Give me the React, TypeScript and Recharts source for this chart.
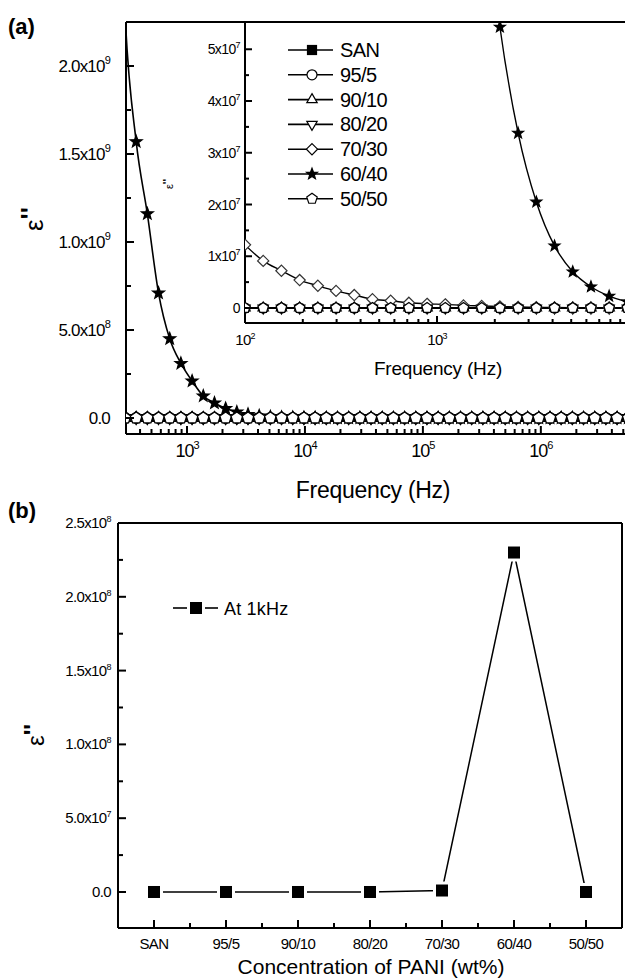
import React from 'react'
import { LineChart, Line, XAxis, YAxis, ReferenceLine, Legend } from 'recharts'

const FONT = '"Liberation Sans", Arial, Helvetica, sans-serif'
const TICK_COLOR = '#000'

// frequency sweep (Hz)
const FREQ = [
  100, 124.4, 154.8, 192.6, 239.6, 298, 370.8, 461.2, 573.8, 713.8,
  888, 1104.6, 1374.2, 1709.5, 2126.6, 2645.5, 3291, 4094, 5093, 6336,
  7882, 9805, 12198, 15174, 18876, 23482, 29212, 36340, 45207, 56238,
  69960, 87030, 108265, 134682, 167545, 208426, 259282, 322547, 401249, 499154,
  620948, 772459, 960939, 1195408, 1487088, 1849938, 2301323, 2862846, 3561381, 4430358,
  5511365,
]

// dielectric loss e'' for each composition
const SAN = [
  0, 0, 0, 0, 0, 0, 0, 0, 0, 0, 0, 0, 0, 0, 0, 0, 0, 0, 0, 0, 0, 0, 0, 0, 0,
  0, 0, 0, 0, 0, 0, 0, 0, 0, 0, 0, 0, 0, 0, 0, 0, 0, 0, 0, 0, 0, 0, 0, 0, 0, 0,
]
const P95_5 = [
  0, 0, 0, 0, 0, 0, 0, 0, 0, 0, 0, 0, 0, 0, 0, 0, 0, 0, 0, 0, 0, 0, 0, 0, 0,
  0, 0, 0, 0, 0, 0, 0, 0, 0, 0, 0, 0, 0, 0, 0, 0, 0, 0, 0, 0, 0, 0, 0, 0, 0, 0,
]
const P90_10 = [
  0, 0, 0, 0, 0, 0, 0, 0, 0, 0, 0, 0, 0, 0, 0, 0, 0, 0, 0, 0, 0, 0, 0, 0, 0,
  0, 0, 0, 0, 0, 0, 0, 0, 0, 0, 0, 0, 0, 0, 0, 0, 0, 0, 0, 0, 0, 0, 0, 0, 0, 0,
]
const P80_20 = [
  0, 0, 0, 0, 0, 0, 0, 0, 0, 0, 0, 0, 0, 0, 0, 0, 0, 0, 0, 0, 0, 0, 0, 0, 0,
  0, 0, 0, 0, 0, 0, 0, 0, 0, 0, 0, 0, 0, 0, 0, 0, 0, 0, 0, 0, 0, 0, 0, 0, 0, 0,
]
const P70_30 = [
  1.22e7, 9.1e6, 7.2e6, 5.4e6, 4.3e6, 3.3e6, 2.5e6, 1.7e6, 1.4e6, 1.0e6,
  8e5, 7e5, 5e5, 4e5, 3e5, 2e5, 1.5e5, 1e5, 7e4, 5e4,
  3e4, 2e4, 1e4, 0, 0, 0, 0, 0, 0, 0,
  0, 0, 0, 0, 0, 0, 0, 0, 0, 0, 0, 0, 0, 0, 0, 0, 0, 0, 0, 0, 0,
]
const P60_40 = [
  null, null, null, null, 4.2e9, 2.3e9, 1.57e9, 1.16e9, 7.1e8, 4.5e8,
  3.1e8, 2.1e8, 1.25e8, 8.5e7, 5.43e7, 3.38e7, 2.05e7, 1.2e7, 7.0e6, 4.1e6,
  2.3e6, 1.2e6, 6e5, 3e5, 1.5e5, 8e4, 4e4, 2e4, 1e4, 0,
  0, 0, 0, 0, 0, 0, 0, 0, 0, 0, 0, 0, 0, 0, 0, 0, 0, 0, 0, 0, 0,
]
const P50_50 = [
  0, 0, 0, 0, 0, 0, 0, 0, 0, 0, 0, 0, 0, 0, 0, 0, 0, 0, 0, 0, 0, 0, 0, 0, 0,
  0, 0, 0, 0, 0, 0, 0, 0, 0, 0, 0, 0, 0, 0, 0, 0, 0, 0, 0, 0, 0, 0, 0, 0, 0, 0,
]

// panel (b): e'' at 1 kHz
const CATEGORIES = ['SAN', '95/5', '90/10', '80/20', '70/30', '60/40', '50/50']
const AT_1KHZ = [0, 0, 0, 0, 1.0e6, 2.3e8, 0]

// ticks
const MAIN_X_MAJOR = [1e3, 1e4, 1e5, 1e6]
const MAIN_X_LABELS = ['10^3', '10^4', '10^5', '10^6']
const MAIN_X_MINOR = [
  400, 500, 600, 700, 800, 900,
  2e3, 3e3, 4e3, 5e3, 6e3, 7e3, 8e3, 9e3,
  2e4, 3e4, 4e4, 5e4, 6e4, 7e4, 8e4, 9e4,
  2e5, 3e5, 4e5, 5e5, 6e5, 7e5, 8e5, 9e5,
  2e6, 3e6, 4e6, 5e6,
]
const MAIN_Y_MAJOR = [0, 5e8, 1e9, 1.5e9, 2e9]
const MAIN_Y_LABELS = ['0.0', '5.0x10^8', '1.0x10^9', '1.5x10^9', '2.0x10^9']
const MAIN_Y_MINOR = [2.5e8, 7.5e8, 1.25e9, 1.75e9]

const INSET_X_MAJOR = [100, 1000, 10000]
const INSET_X_LABELS = ['10^2', '10^3', '']
const INSET_X_MINOR = [200, 300, 400, 500, 600, 700, 800, 900, 2000, 3000, 4000, 5000, 6000, 7000, 8000, 9000]
const INSET_Y_MAJOR = [0, 1e7, 2e7, 3e7, 4e7, 5e7]
const INSET_Y_LABELS = ['0', '1x10^7', '2x10^7', '3x10^7', '4x10^7', '5x10^7']
const INSET_Y_MINOR = [5e6, 1.5e7, 2.5e7, 3.5e7, 4.5e7]

const B_Y_MAJOR = [0, 5e7, 1e8, 1.5e8, 2e8, 2.5e8]
const B_Y_LABELS = ['0.0', '5.0x10^7', '1.0x10^8', '1.5x10^8', '2.0x10^8', '2.5x10^8']
const B_Y_MINOR = [2.5e7, 7.5e7, 1.25e8, 1.75e8, 2.25e8]
const B_X_MAJOR = [0, 1, 2, 3, 4, 5, 6]
const B_X_MINOR = [0.5, 1.5, 2.5, 3.5, 4.5, 5.5]

const MAIN_X_DOMAIN = [304, 5.7e6]
const MAIN_Y_DOMAIN = [-9.1e7, 2.25e9]
const INSET_X_DOMAIN = [100, 10000]
const INSET_Y_DOMAIN = [-2.9e6, 5.527e7]
const B_X_DOMAIN = [-0.5, 6.5]
const B_Y_DOMAIN = [-2.44e7, 2.5e8]

const SERIES = [
  { key: 'san', name: 'SAN', shape: 'square', fill: '#000', values: SAN },
  { key: 'p95', name: '95/5', shape: 'circle', fill: '#fff', values: P95_5 },
  { key: 'p90', name: '90/10', shape: 'up', fill: '#fff', values: P90_10 },
  { key: 'p80', name: '80/20', shape: 'down', fill: '#fff', values: P80_20 },
  { key: 'p70', name: '70/30', shape: 'diamond', fill: '#fff', values: P70_30 },
  { key: 'p60', name: '60/40', shape: 'star', fill: '#000', values: P60_40 },
  { key: 'p50', name: '50/50', shape: 'pentagon', fill: '#fff', values: P50_50 },
]

const rows = FREQ.map((f, i) => {
  const r: Record<string, number | null> = { f }
  SERIES.forEach((s) => {
    r[s.key] = s.values[i]
  })
  return r
})

const bRows = CATEGORIES.map((c, i) => ({ i, v: AT_1KHZ[i] }))

function polyPoints(n: number, r: number, start: number, cx: number, cy: number) {
  const pts: string[] = []
  for (let k = 0; k < n; k++) {
    const a = ((start + (360 / n) * k) * Math.PI) / 180
    pts.push(`${cx + r * Math.cos(a)},${cy + r * Math.sin(a)}`)
  }
  return pts.join(' ')
}

function starPoints(ro: number, ri: number, cx: number, cy: number) {
  const pts: string[] = []
  for (let k = 0; k < 10; k++) {
    const r = k % 2 === 0 ? ro : ri
    const a = ((-90 + 36 * k) * Math.PI) / 180
    pts.push(`${cx + r * Math.cos(a)},${cy + r * Math.sin(a)}`)
  }
  return pts.join(' ')
}

function Marker({ shape, cx, cy, size, fill, stroke = '#000', sw = 1.2 }: any) {
  const r = size / 2
  if (shape === 'square')
    return <rect x={cx - r} y={cy - r} width={size} height={size} fill={fill} stroke={stroke} strokeWidth={sw} />
  if (shape === 'circle') return <circle cx={cx} cy={cy} r={r} fill={fill} stroke={stroke} strokeWidth={sw} />
  let pts = ''
  if (shape === 'up') pts = polyPoints(3, r * 1.2, -90, cx, cy)
  if (shape === 'down') pts = polyPoints(3, r * 1.2, 90, cx, cy)
  if (shape === 'diamond') pts = polyPoints(4, r * 1.12, -90, cx, cy)
  if (shape === 'pentagon') pts = polyPoints(5, r * 1.1, -90, cx, cy)
  if (shape === 'star') pts = starPoints(r * 1.15, r * 0.48, cx, cy)
  return <polygon points={pts} fill={fill} stroke={stroke} strokeWidth={sw} strokeLinejoin="miter" />
}

const dotFor = (shape: string, size: number, fill: string, stroke = '#000') => (p: any) => {
  if (p.cx == null || p.cy == null || p.value == null || isNaN(p.cy)) return <g key={`n${p.index}`} />
  return <Marker key={`m${p.index}`} shape={shape} cx={p.cx} cy={p.cy} size={size} fill={fill} stroke={stroke} />
}

// inward ticks, Origin style
function makeTick(cfg: any) {
  return (props: any) => {
    const { x, y, payload } = props
    const v = payload.value
    const idx = cfg.majors.findIndex((m: number) => Math.abs(m - v) <= Math.abs(m) * 1e-6 + 1e-9)
    const major = idx >= 0
    const L = major ? cfg.len : cfg.minorLen
    const line =
      cfg.side === 'left' ? (
        <line x1={x} x2={x + L} y1={y} y2={y} stroke={TICK_COLOR} strokeWidth={2} />
      ) : (
        <line x1={x} x2={x} y1={y} y2={y - L} stroke={TICK_COLOR} strokeWidth={2} />
      )
    let label = null
    if (major && cfg.labels[idx]) {
      const [b, s] = cfg.labels[idx].split('^')
      label = (
        <text
          x={cfg.side === 'left' ? x - cfg.gap : x}
          y={y + cfg.base}
          textAnchor={cfg.side === 'left' ? 'end' : 'middle'}
          fontSize={cfg.fs}
          fontFamily={FONT}
          letterSpacing={cfg.ls}
          fill="#000"
        >
          <tspan>{b}</tspan>
          {s && (
            <tspan dy={-cfg.supDy} fontSize={cfg.sup}>
              {s}
            </tspan>
          )}
        </text>
      )
    }
    return (
      <g>
        {line}
        {label}
      </g>
    )
  }
}

const AXIS_LINE = { stroke: '#000', strokeWidth: 2 }

function InsetLegend() {
  return (
    <svg width={170} height={180}>
      {SERIES.map((s, i) => {
        const cy = 12 + i * 24.8
        return (
          <g key={s.key}>
            <line x1={8} x2={53} y1={cy} y2={cy} stroke="#000" strokeWidth={1.6} />
            <Marker shape={s.shape} cx={32} cy={cy} size={s.shape === 'square' ? 9 : 10} fill={s.fill} />
            <text x={60} y={cy + 7} fontSize={20} fontFamily={FONT} letterSpacing={-0.6} fill="#000">
              {s.name}
            </text>
          </g>
        )
      })}
    </svg>
  )
}

function BLegend() {
  return (
    <svg width={150} height={30}>
      <line x1={13} x2={27} y1={13} y2={13} stroke="#000" strokeWidth={1.6} />
      <line x1={45} x2={58} y1={13} y2={13} stroke="#000" strokeWidth={1.6} />
      <rect x={30} y={7} width={12} height={12} fill="#000" />
      <text x={64} y={19.5} fontSize={18} fontFamily={FONT} letterSpacing={0.2} fill="#000">
        At 1kHz
      </text>
    </svg>
  )
}

function MainChart() {
  return (
    <LineChart width={640} height={500} data={rows} margin={{ top: 22, right: 10, bottom: 0, left: 0 }}>
      <XAxis
        dataKey="f"
        type="number"
        scale="log"
        domain={MAIN_X_DOMAIN}
        allowDataOverflow
        ticks={[...MAIN_X_MAJOR, ...MAIN_X_MINOR]}
        interval={0}
        height={66}
        tickSize={0}
        tickMargin={0}
        tickLine={false}
        axisLine={AXIS_LINE}
        tick={makeTick({ side: 'bottom', majors: MAIN_X_MAJOR, labels: MAIN_X_LABELS, len: 8, minorLen: 5, fs: 18, sup: 11, supDy: 8, base: 23, ls: -1 })}
      />
      <YAxis
        type="number"
        domain={MAIN_Y_DOMAIN}
        allowDataOverflow
        ticks={[...MAIN_Y_MAJOR, ...MAIN_Y_MINOR]}
        interval={0}
        width={126}
        tickSize={0}
        tickMargin={0}
        tickLine={false}
        axisLine={AXIS_LINE}
        tick={makeTick({ side: 'left', majors: MAIN_Y_MAJOR, labels: MAIN_Y_LABELS, len: 8, minorLen: 5, fs: 17, sup: 11, supDy: 8, gap: 16, base: 6, ls: -0.8 })}
      />
      <ReferenceLine y={MAIN_Y_DOMAIN[1]} stroke="#000" strokeWidth={2} />
      {SERIES.map((s) => (
        <Line
          key={s.key}
          dataKey={s.key}
          type="monotone"
          stroke="#000"
          strokeWidth={1.6}
          dot={dotFor(s.shape, s.shape === 'square' ? 7 : 11, s.fill)}
          activeDot={false}
          isAnimationActive={false}
        />
      ))}
    </LineChart>
  )
}

function InsetChart() {
  return (
    <LineChart width={640} height={400} data={rows} margin={{ top: 22, right: 11, bottom: 0, left: 0 }}>
      <XAxis
        dataKey="f"
        type="number"
        scale="log"
        domain={INSET_X_DOMAIN}
        allowDataOverflow
        ticks={[...INSET_X_MAJOR, ...INSET_X_MINOR]}
        interval={0}
        height={77}
        tickSize={0}
        tickMargin={0}
        tickLine={false}
        axisLine={AXIS_LINE}
        tick={makeTick({ side: 'bottom', majors: INSET_X_MAJOR, labels: INSET_X_LABELS, len: 7, minorLen: 4, fs: 15, sup: 9, supDy: 6, base: 22, ls: -0.8 })}
      />
      <YAxis
        type="number"
        domain={INSET_Y_DOMAIN}
        allowDataOverflow
        ticks={[...INSET_Y_MAJOR, ...INSET_Y_MINOR]}
        interval={0}
        width={245}
        tickSize={0}
        tickMargin={0}
        tickLine={false}
        axisLine={AXIS_LINE}
        tick={makeTick({ side: 'left', majors: INSET_Y_MAJOR, labels: INSET_Y_LABELS, len: 7, minorLen: 4, fs: 14, sup: 9, supDy: 6, gap: 5, base: 5, ls: -0.6 })}
      />
      <ReferenceLine y={INSET_Y_DOMAIN[1]} stroke="#000" strokeWidth={2} />
      <Legend
        layout="vertical"
        align="center"
        verticalAlign="middle"
        content={() => <InsetLegend />}
        wrapperStyle={{ left: 280, top: 38, width: 170, height: 180 }}
      />
      {SERIES.map((s) => (
        <Line
          key={s.key}
          dataKey={s.key}
          type="monotone"
          stroke="#000"
          strokeWidth={1.4}
          dot={dotFor(s.shape, s.shape === 'square' ? 7 : 10, s.fill, s.shape === 'diamond' ? '#333' : '#000')}
          activeDot={false}
          isAnimationActive={false}
        />
      ))}
    </LineChart>
  )
}

function PanelB() {
  const bDot = (p: any) => (
    <g key={`b${p.index}`}>
      <rect x={p.cx - 9} y={p.cy - 9} width={18} height={18} fill="#fff" />
      <rect x={p.cx - 6} y={p.cy - 6} width={12} height={12} fill="#000" />
    </g>
  )
  return (
    <LineChart width={630} height={490} data={bRows} margin={{ top: 33, right: 8, bottom: 0, left: 0 }}>
      <XAxis
        dataKey="i"
        type="number"
        domain={B_X_DOMAIN}
        ticks={[...B_X_MAJOR, ...B_X_MINOR]}
        interval={0}
        height={52}
        tickSize={0}
        tickMargin={0}
        tickLine={false}
        axisLine={AXIS_LINE}
        tick={makeTick({ side: 'bottom', majors: B_X_MAJOR, labels: CATEGORIES, len: 8, minorLen: 5, fs: 15, sup: 8, supDy: 6, base: 21, ls: -0.6 })}
      />
      <YAxis
        type="number"
        domain={B_Y_DOMAIN}
        ticks={[...B_Y_MAJOR, ...B_Y_MINOR]}
        interval={0}
        width={118}
        tickSize={0}
        tickMargin={0}
        tickLine={false}
        axisLine={AXIS_LINE}
        tick={makeTick({ side: 'left', majors: B_Y_MAJOR, labels: B_Y_LABELS, len: 8, minorLen: 5, fs: 15, sup: 9, supDy: 6, gap: 7, base: 5, ls: -0.6 })}
      />
      <ReferenceLine y={B_Y_DOMAIN[1]} stroke="#000" strokeWidth={2} />
      <ReferenceLine x={B_X_DOMAIN[1]} stroke="#000" strokeWidth={2} />
      <Legend
        layout="vertical"
        align="center"
        verticalAlign="middle"
        content={() => <BLegend />}
        wrapperStyle={{ left: 160, top: 105, width: 150, height: 30 }}
      />
      <Line dataKey="v" type="linear" stroke="#000" strokeWidth={1.5} dot={bDot} activeDot={false} isAnimationActive={false} />
    </LineChart>
  )
}

export default function App() {
  return (
    <div style={{ position: 'fixed', left: 0, top: 0, width: 625, height: 980, overflow: 'hidden', background: '#fff', fontFamily: FONT }}>
      <div style={{ position: 'absolute', left: 0, top: 0 }}>
        <MainChart />
      </div>
      <div style={{ position: 'absolute', left: 245, top: 22, width: 400, height: 301, background: '#fff' }} />
      <div style={{ position: 'absolute', left: 0, top: 0 }}>
        <InsetChart />
      </div>
      <div style={{ position: 'absolute', left: 0, top: 490 }}>
        <PanelB />
      </div>
      <svg width={625} height={980} style={{ position: 'absolute', left: 0, top: 0, pointerEvents: 'none' }}>
        <g fontFamily={FONT} fill="#000">
          <text x={8} y={34} fontSize={22} fontWeight="bold">(a)</text>
          <text x={8} y={518} fontSize={22} fontWeight="bold">(b)</text>
          <text transform="translate(43,219) rotate(-90)" textAnchor="middle" fontSize={26}>
            ε<tspan dy={-4} fontWeight="bold">''</tspan>
          </text>
          <text transform="translate(173,184) rotate(-90)" textAnchor="middle" fontSize={11}>
            ε<tspan dy={-2} fontWeight="bold">''</tspan>
          </text>
          <text transform="translate(44,735) rotate(-90)" textAnchor="middle" fontSize={24}>
            ε<tspan dy={-3} fontWeight="bold">''</tspan>
          </text>
          <text x={373} y={498} textAnchor="middle" fontSize={23} letterSpacing={-0.3}>Frequency (Hz)</text>
          <text x={438} y={375} textAnchor="middle" fontSize={19} letterSpacing={-0.2}>Frequency (Hz)</text>
          <text x={371} y={974} textAnchor="middle" fontSize={21}>Concentration of PANI (wt%)</text>
        </g>
      </svg>
    </div>
  )
}
